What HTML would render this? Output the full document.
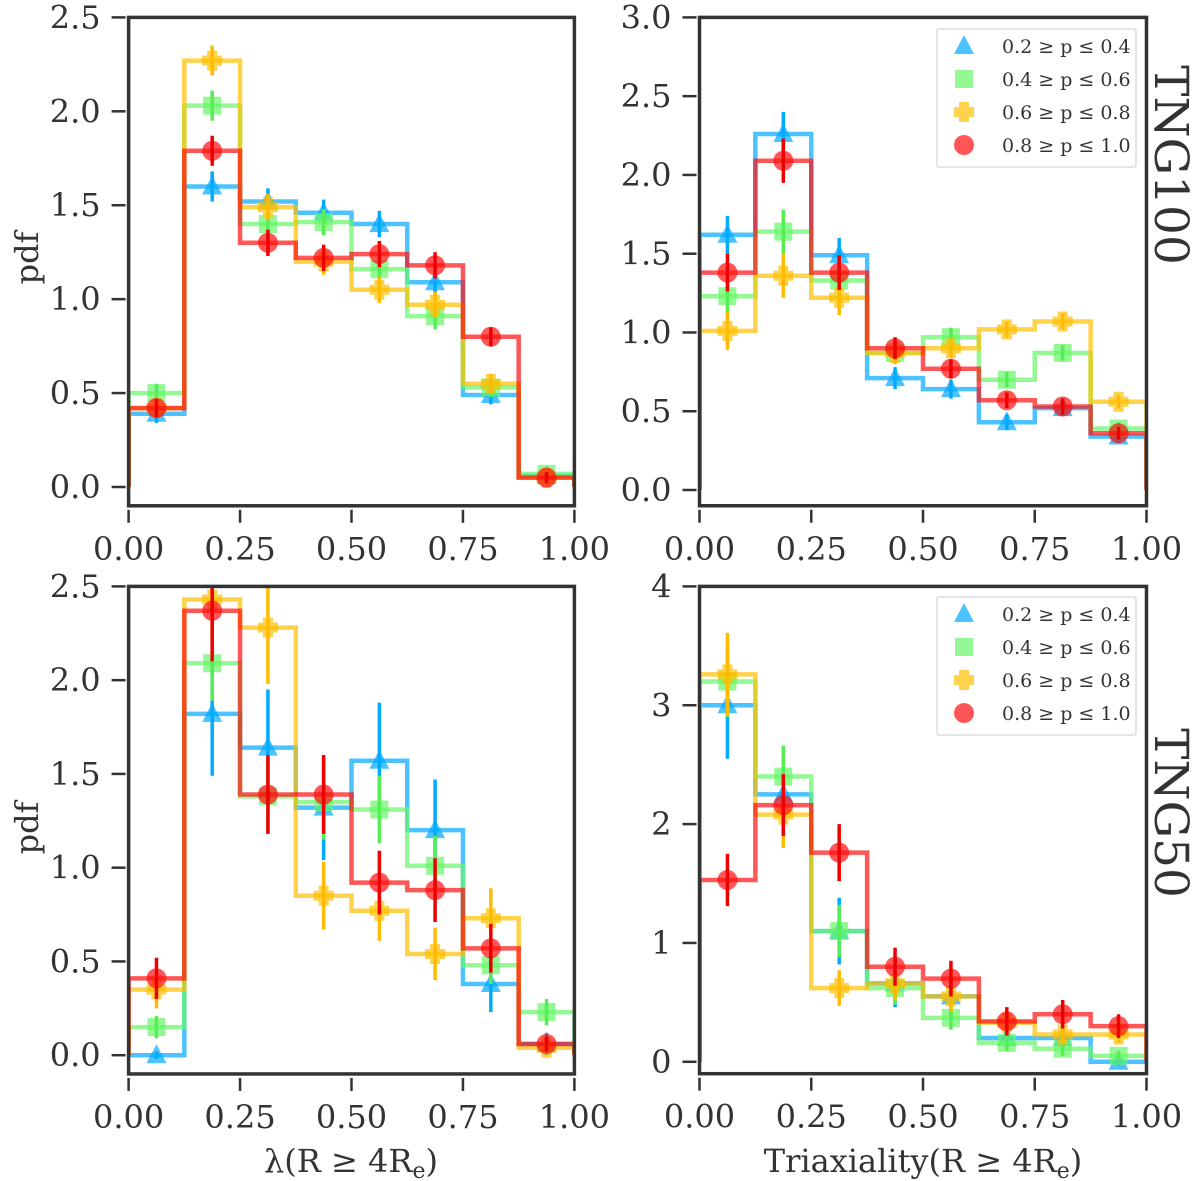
<!DOCTYPE html>
<html><head><meta charset="utf-8"><style>
html,body{margin:0;padding:0;background:#fff;}
svg{display:block;font-family:"DejaVu Serif","Liberation Serif",serif;}
</style></head><body>
<svg id="fig" width="1200" height="1181" viewBox="0 0 1200 1181" xmlns="http://www.w3.org/2000/svg">
<defs id="defs"></defs>
<rect width="1200" height="1181" fill="#fff"/>
<text transform="translate(38,258) rotate(-90)" text-anchor="middle" font-size="32" fill="#333">pdf</text>
<text transform="translate(38,828) rotate(-90)" text-anchor="middle" font-size="32" fill="#333">pdf</text>
<text x="351" y="1172" text-anchor="middle" font-size="32" fill="#333">λ(R ≥ 4R<tspan font-size="22" dy="6">e</tspan><tspan dy="-6">)</tspan></text>
<text x="923" y="1172" text-anchor="middle" font-size="32" fill="#333">Triaxiality(R ≥ 4R<tspan font-size="22" dy="6">e</tspan><tspan dy="-6">)</tspan></text>
<text transform="translate(1155,165) rotate(90)" text-anchor="middle" font-size="47" fill="#333">TNG100</text>
<text transform="translate(1155,813) rotate(90)" text-anchor="middle" font-size="47" fill="#333">TNG50</text>
</svg>
<script>
const binCenters = [0.0625,0.1875,0.3125,0.4375,0.5625,0.6875,0.8125,0.9375];
const binEdges = [0,0.125,0.25,0.375,0.5,0.625,0.75,0.875,1];
const xTicks = [0,0.25,0.5,0.75,1];
const xTickLabels = ["0.00","0.25","0.50","0.75","1.00"];
const seriesNames = ["0.2 ≥ p ≤ 0.4","0.4 ≥ p ≤ 0.6","0.6 ≥ p ≤ 0.8","0.8 ≥ p ≤ 1.0"];

// TNG100 lambda
const tlBlue = [0.39,1.60,1.52,1.46,1.40,1.09,0.49,0.06];
const tlGreen = [0.50,2.03,1.40,1.41,1.16,0.91,0.53,0.07];
const tlYellow = [0.42,2.27,1.49,1.20,1.05,0.97,0.55,0.05];
const tlRed = [0.42,1.79,1.30,1.22,1.24,1.18,0.80,0.05];
const tlErr = [0.05,0.08,0.07,0.07,0.07,0.07,0.05,0.03];
const tlYTicks = [0,0.5,1,1.5,2,2.5];
const tlYTickLabels = ["0.0","0.5","1.0","1.5","2.0","2.5"];
// TNG100 triaxiality
const trBlue = [1.62,2.26,1.49,0.71,0.64,0.43,0.52,0.34];
const trGreen = [1.23,1.64,1.33,0.87,0.97,0.70,0.87,0.39];
const trYellow = [1.01,1.36,1.22,0.87,0.90,1.02,1.07,0.56];
const trRed = [1.38,2.09,1.38,0.90,0.77,0.57,0.53,0.36];
const trErr = [0.12,0.14,0.11,0.07,0.06,0.05,0.05,0.04];
const trYTicks = [0,0.5,1,1.5,2,2.5,3];
const trYTickLabels = ["0.0","0.5","1.0","1.5","2.0","2.5","3.0"];
// TNG50 lambda
const blBlue = [0.00,1.82,1.64,1.32,1.57,1.20,0.38,0.06];
const blGreen = [0.15,2.09,1.38,1.35,1.31,1.01,0.48,0.23];
const blYellow = [0.35,2.43,2.28,0.85,0.77,0.54,0.73,0.04];
const blRed = [0.41,2.37,1.39,1.39,0.92,0.88,0.57,0.06];
const blErrBlue = [0.02,0.33,0.31,0.28,0.31,0.27,0.15,0.06];
const blErrGreen = [0.06,0.20,0.20,0.20,0.18,0.16,0.10,0.07];
const blErrYellow = [0.10,0.25,0.30,0.18,0.16,0.14,0.16,0.03];
const blErrRed = [0.11,0.27,0.21,0.21,0.17,0.17,0.13,0.04];
const blYTicks = [0,0.5,1,1.5,2,2.5];
const blYTickLabels = ["0.0","0.5","1.0","1.5","2.0","2.5"];
// TNG50 triaxiality
const brBlue = [3.00,2.25,1.10,0.66,0.55,0.20,0.20,0.00];
const brGreen = [3.20,2.40,1.10,0.62,0.37,0.16,0.11,0.05];
const brYellow = [3.26,2.08,0.62,0.66,0.55,0.33,0.23,0.23];
const brRed = [1.53,2.16,1.76,0.80,0.70,0.34,0.40,0.30];
const brErrBlue = [0.45,0.20,0.28,0.20,0.15,0.10,0.08,0.03];
const brErrGreen = [0.30,0.26,0.22,0.14,0.10,0.07,0.06,0.04];
const brErrYellow = [0.35,0.28,0.15,0.14,0.13,0.10,0.08,0.07];
const brErrRed = [0.22,0.26,0.24,0.16,0.15,0.12,0.12,0.10];
const brYTicks = [0,1,2,3,4];
const brYTickLabels = ["0","1","2","3","4"];

const NS = "http://www.w3.org/2000/svg";
const svg = document.getElementById('fig');
const defs = document.getElementById('defs');
const lineColors = ["#00aaff","#66f766","#ffbf00","#ff1010"];
const errColors = ["#00aaff","#55ee55","#ffbb00","#ee0000"];
const shapes = ["tri","sq","plus","circ"];
const keys = ["blue","green","yellow","red"];

function mk(tag, attrs, parent){
  const e = document.createElementNS(NS, tag);
  for (const k in attrs) e.setAttribute(k, attrs[k]);
  (parent||svg).appendChild(e);
  return e;
}
function marker(shape, cx, cy, color, parent){
  let e;
  if (shape==="tri") e = mk('polygon',{points:`${cx},${cy-11} ${cx-10},${cy+8} ${cx+10},${cy+8}`,fill:color,'fill-opacity':0.7},parent);
  else if (shape==="sq") e = mk('rect',{x:cx-9,y:cy-9,width:18,height:18,fill:color,'fill-opacity':0.7},parent);
  else if (shape==="plus") e = mk('path',{d:`M${cx-5},${cy-10}h10v5h5v10h-5v5h-10v-5h-5v-10h5z`,fill:color,'fill-opacity':0.7},parent);
  else e = mk('circle',{cx:cx,cy:cy,r:10,fill:color,'fill-opacity':0.7},parent);
  return e;
}

let clipN = 0;
function panel(cfg){
  const g = mk('g',{});
  
  
  const X = v => cfg.x0 + v*(cfg.x1-cfg.x0);
  const Y = v => cfg.yz - v*cfg.py;
  const top = Y(cfg.ymax), bot = Y(-0.1);
  const cid = 'clip' + (clipN++);
  const cp = mk('clipPath',{id:cid},defs);
  mk('rect',{x:cfg.x0,y:top,width:cfg.x1-cfg.x0,height:bot-top},cp);
  const data = mk('g',{'clip-path':`url(#${cid})`},g);
  
  
  cfg.series.forEach((vals, si) => {
    const sg = mk('g',{},data);
    
    
    let d = `M${X(0)},${Y(0)}`;
    vals.forEach((v,i)=>{ d += ` L${X(binEdges[i])},${Y(v)} L${X(binEdges[i+1])},${Y(v)}`; });
    d += ` L${X(1)},${Y(0)}`;
    const p = mk('path',{d:d,fill:'none',stroke:lineColors[si],'stroke-opacity':0.7,'stroke-width':4.5},sg);
    
    
    vals.forEach((v,i)=>{
      const m = marker(shapes[si], X(binCenters[i]), Y(v), lineColors[si], sg);
      
      
      const er = cfg.errs[si][i];
      const eb = mk('line',{x1:X(binCenters[i]),x2:X(binCenters[i]),y1:Y(v-er),y2:Y(v+er),stroke:errColors[si],'stroke-width':3.5},sg);
      
      
    });
  });
  const fr = mk('rect',{x:cfg.x0,y:top,width:cfg.x1-cfg.x0,height:bot-top,fill:'none',stroke:'#333','stroke-width':3.5},g);
  
  
  cfg.yTicks.forEach((t,i)=>{
    const tl = mk('line',{x1:cfg.x0-17,x2:cfg.x0-3,y1:Y(t),y2:Y(t),stroke:'#333','stroke-width':2.5},g);
    
    
    const tx = mk('text',{x:cfg.x0-28,y:Y(t)+11,'text-anchor':'end','font-size':32,fill:'#333'},g);
    tx.textContent = cfg.yLabels[i];
    
    
  });
  xTicks.forEach((t,i)=>{
    const tl = mk('line',{x1:X(t),x2:X(t),y1:bot+4,y2:bot+17,stroke:'#333','stroke-width':2.5},g);
    
    
    const tx = mk('text',{x:X(t),y:bot+54,'text-anchor':'middle','font-size':32,fill:'#333'},g);
    tx.textContent = xTickLabels[i];
    
    
  });
  if (cfg.legendY !== undefined) {
    const lg = mk('g',{},g);
    
    
    const lb = mk('rect',{x:937,y:cfg.legendY,width:199,height:138,fill:'#fff',stroke:'#ddd','stroke-width':1.5,rx:2},lg);
    
    
    seriesNames.forEach((n,si)=>{
      const cy = cfg.legendY + 17 + si*33;
      const ent = mk('g',{},lg);
      
      
      const mm = marker(shapes[si], 964, cy, lineColors[si], ent);
      
      
      const t = mk('text',{x:1002,y:cy+7,'font-size':19,fill:'#333'},ent);
      t.textContent = n;
      
      
    });
  }
}

panel({name:'panel-tng100-lambda', x0:128.6, x1:574.4, yz:487, py:(487-17.4)/2.5, ymax:2.5,
  series:[tlBlue,tlGreen,tlYellow,tlRed], errs:[tlErr,tlErr,tlErr,tlErr],
  yTicks:tlYTicks, yLabels:tlYTickLabels});
panel({name:'panel-tng100-triaxiality', x0:699.5, x1:1146.5, yz:490, py:(490-17.4)/3, ymax:3,
  series:[trBlue,trGreen,trYellow,trRed], errs:[trErr,trErr,trErr,trErr],
  yTicks:trYTicks, yLabels:trYTickLabels, legendY:29});
panel({name:'panel-tng50-lambda', x0:128.6, x1:574.4, yz:1055.2, py:(1055.2-586.4)/2.5, ymax:2.5,
  series:[blBlue,blGreen,blYellow,blRed], errs:[blErrBlue,blErrGreen,blErrYellow,blErrRed],
  yTicks:blYTicks, yLabels:blYTickLabels});
panel({name:'panel-tng50-triaxiality', x0:699.5, x1:1146.5, yz:1061.8, py:(1061.8-586.4)/4, ymax:4,
  series:[brBlue,brGreen,brYellow,brRed], errs:[brErrBlue,brErrGreen,brErrYellow,brErrRed],
  yTicks:brYTicks, yLabels:brYTickLabels, legendY:597});
</script>
</body></html>
